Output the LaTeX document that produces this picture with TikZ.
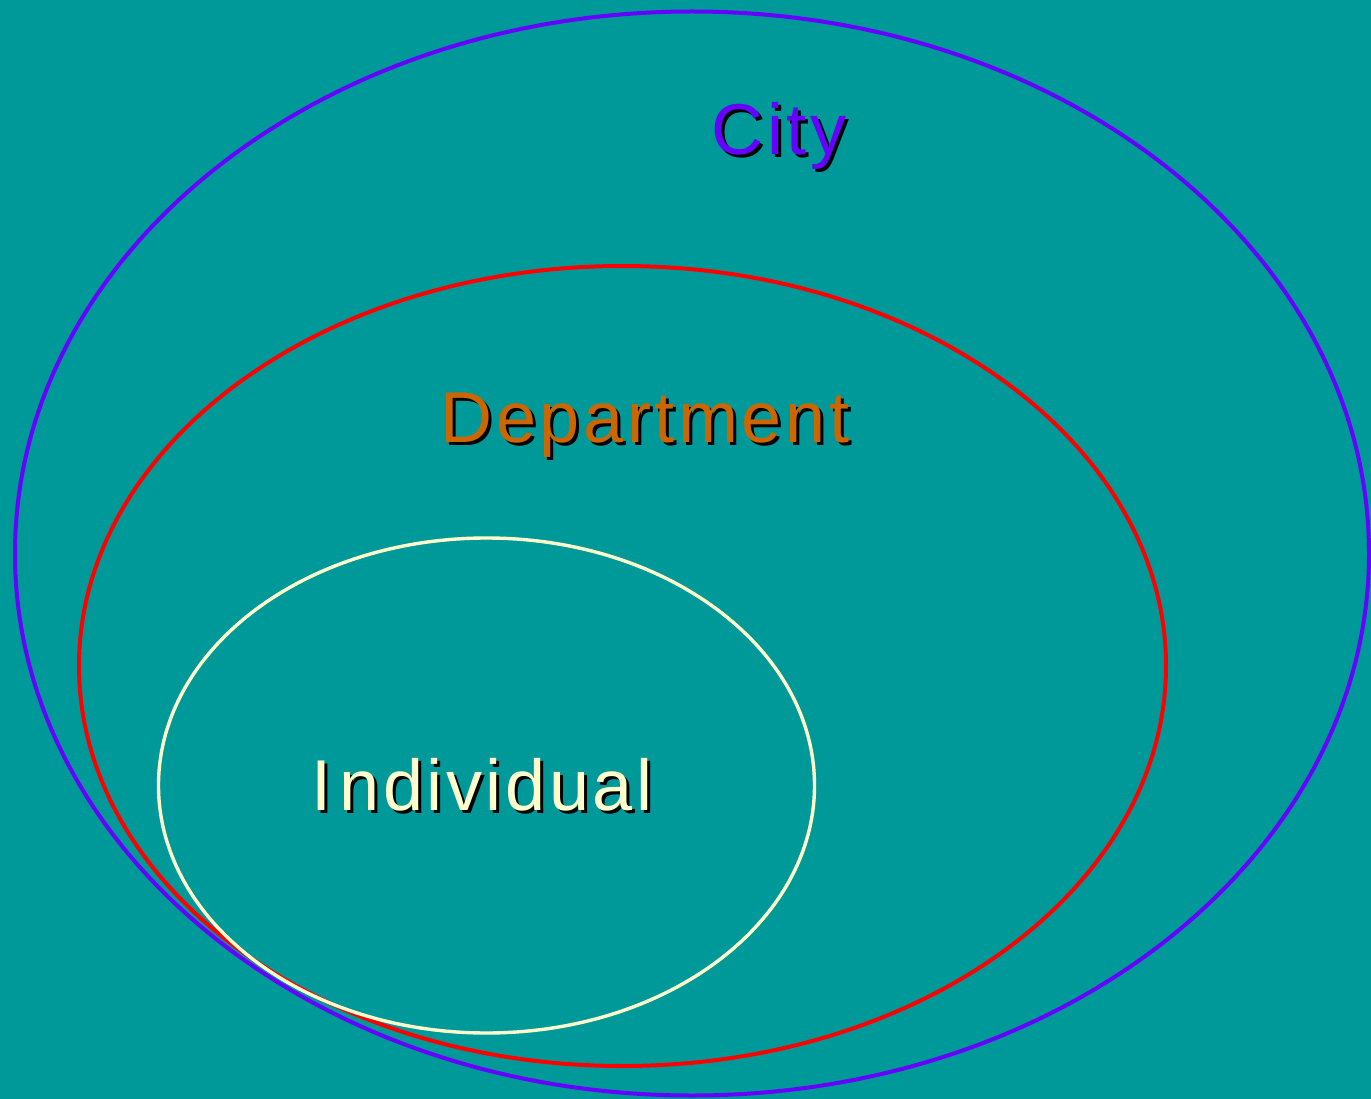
\documentclass[tikz,border=0pt]{standalone}
\usepackage{fontspec}
\setmainfont{Liberation Sans}[LetterSpace=5]
\definecolor{bg}{HTML}{009999}
\definecolor{cityc}{HTML}{6600FF}
\definecolor{deptc}{HTML}{CC6600}
\definecolor{indc}{HTML}{FFFFCC}
\newcommand{\shadowtext}[1]{\makebox[0pt][l]{\hspace{3pt}\raisebox{-3pt}{\color{black}#1}}#1}
\tikzset{
  lbl/.style={anchor=base, inner sep=0pt, font=\fontsize{72}{80}\selectfont},
  ring/.style={line width=4pt}
}
\begin{document}
\begin{tikzpicture}[x=1pt,y=-1pt]
\fill[bg] (0,0) rectangle (1371,1099);
\useasboundingbox (0,0) rectangle (1371,1099);
\draw[ring, cityc] (692,553.5) ellipse [x radius=677, y radius=542];
\draw[ring, red] (622.5,666) ellipse [x radius=543.5, y radius=400];
\draw[line width=3.4pt, indc] (486.5,785.5) ellipse [x radius=328, y radius=247.5];
\node[lbl, text=cityc] (city) at (779,155) {\shadowtext{City}};
\node[lbl, text=deptc] (dept) at (645,442) {\shadowtext{Department}};
\node[lbl, text=indc] (ind) at (482,810) {\shadowtext{I\kern8pt ndividual}};
\end{tikzpicture}
\end{document}
